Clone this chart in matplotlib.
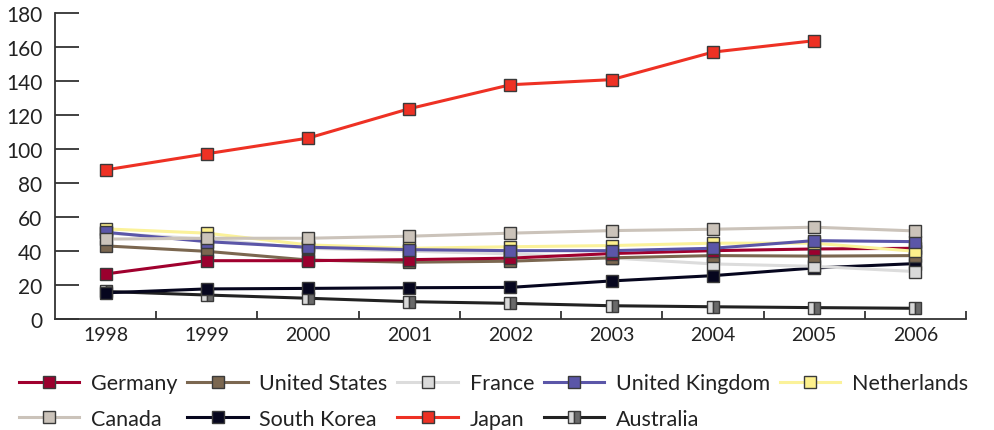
import matplotlib
matplotlib.use("Agg")
import matplotlib.pyplot as plt
import numpy as np

plt.rcParams['font.family'] = ['Lato', 'DejaVu Sans']

years = ['1998', '1999', '2000', '2001', '2002', '2003', '2004', '2005', '2006']

germany     = [26.5, 34.3, 34.3, 34.9, 35.8, 38.5, 40.2, 41.2, 41.6]
usa         = [43.0, 39.8, 34.7, 33.4, 34.0, 36.0, 37.3, 37.0, 37.3]
france      = [50.5, 47.0, 41.6, 39.9, 38.3, 35.9, 32.4, 31.0, 27.9]
uk          = [51.0, 45.5, 42.2, 40.8, 40.2, 40.2, 41.6, 46.1, 45.5]
netherlands = [53.0, 50.5, 43.6, 41.6, 42.5, 43.2, 44.6, 44.6, 39.8]
canada      = [47.0, 47.5, 47.5, 48.7, 50.5, 52.0, 52.8, 54.0, 51.8]
south_korea = [15.4, 17.7, 18.0, 18.4, 18.6, 22.4, 25.5, 30.0, 32.6]
japan       = [87.7, 97.2, 106.4, 123.7, 137.8, 140.8, 157.0, 163.7, None]
australia   = [16.2, 14.1, 12.2, 10.2, 9.2, 7.8, 7.2, 6.7, 6.3]

fig = plt.figure(figsize=(9.95, 4.31), dpi=100)
ax = fig.add_axes([55 / 995, 1 - 320 / 431, 911 / 995, 306 / 431])

x = np.arange(len(years))
edge = '#3a3a3a'
ms = 9.3
lw = 2.2

def draw(vals, line_c, face_c, label, **kw):
    v = np.array([np.nan if a is None else a for a in vals], dtype=float)
    return ax.plot(x, v, color=line_c, lw=lw, marker='s', ms=ms,
                   markerfacecolor=face_c, markeredgecolor=edge,
                   markeredgewidth=1.0, label=label, **kw)[0]

h = {}
h['Australia'] = draw(australia, '#222222', '#d8d8d8', 'Australia',
                      fillstyle='left', markerfacecoloralt='#6a6a6a')
h['South Korea'] = draw(south_korea, '#06061e', '#06061e', 'South Korea')
h['France'] = draw(france, '#dcdcdc', '#dadada', 'France')
h['United States'] = draw(usa, '#7b6750', '#7b6750', 'United States')
h['Germany'] = draw(germany, '#a0002e', '#9b002e', 'Germany')
h['Netherlands'] = draw(netherlands, '#fbf29a', '#fdf08c', 'Netherlands')
h['United Kingdom'] = draw(uk, '#5b56a8', '#5b56a8', 'United Kingdom')
h['Canada'] = draw(canada, '#cbc3ba', '#cbc3ba', 'Canada')
h['Japan'] = draw(japan, '#ee3124', '#ee3124', 'Japan')

ax.set_xlim(-0.5, 8.5)
ax.set_ylim(0, 180)
ax.spines['top'].set_visible(False)
ax.spines['right'].set_visible(False)
for s in ['left', 'bottom']:
    ax.spines[s].set_color('#333333')
    ax.spines[s].set_linewidth(1.3)

ax.set_yticks(np.arange(0, 181, 20))
ax.tick_params(axis='y', direction='in', length=17, width=1.3, color='#333333',
               labelsize=15, pad=9, labelcolor='#222222')
ax.set_xticks(x)
ax.set_xticklabels(years)
ax.tick_params(axis='x', which='major', length=0, labelsize=14, pad=5,
               labelcolor='#222222')
ax.set_xticks(np.arange(0.5, 9, 1), minor=True)
ax.tick_params(axis='x', which='minor', direction='in', length=6, width=1.3,
               color='#333333')

order = ['Germany', 'Canada', 'United States', 'South Korea', 'France',
         'Japan', 'United Kingdom', 'Australia', 'Netherlands']
fig.legend([h[k] for k in order], order, ncol=5, loc='upper left',
           bbox_to_anchor=(4 / 995, 1 - 359 / 431), frameon=False, fontsize=15.5,
           handlelength=2.8, handletextpad=0.55, columnspacing=0.45,
           labelspacing=0.72, borderaxespad=0.3)
for t in fig.legends[0].get_texts():
    t.set_color('#222222')

fig.savefig('out.png', dpi=100)
